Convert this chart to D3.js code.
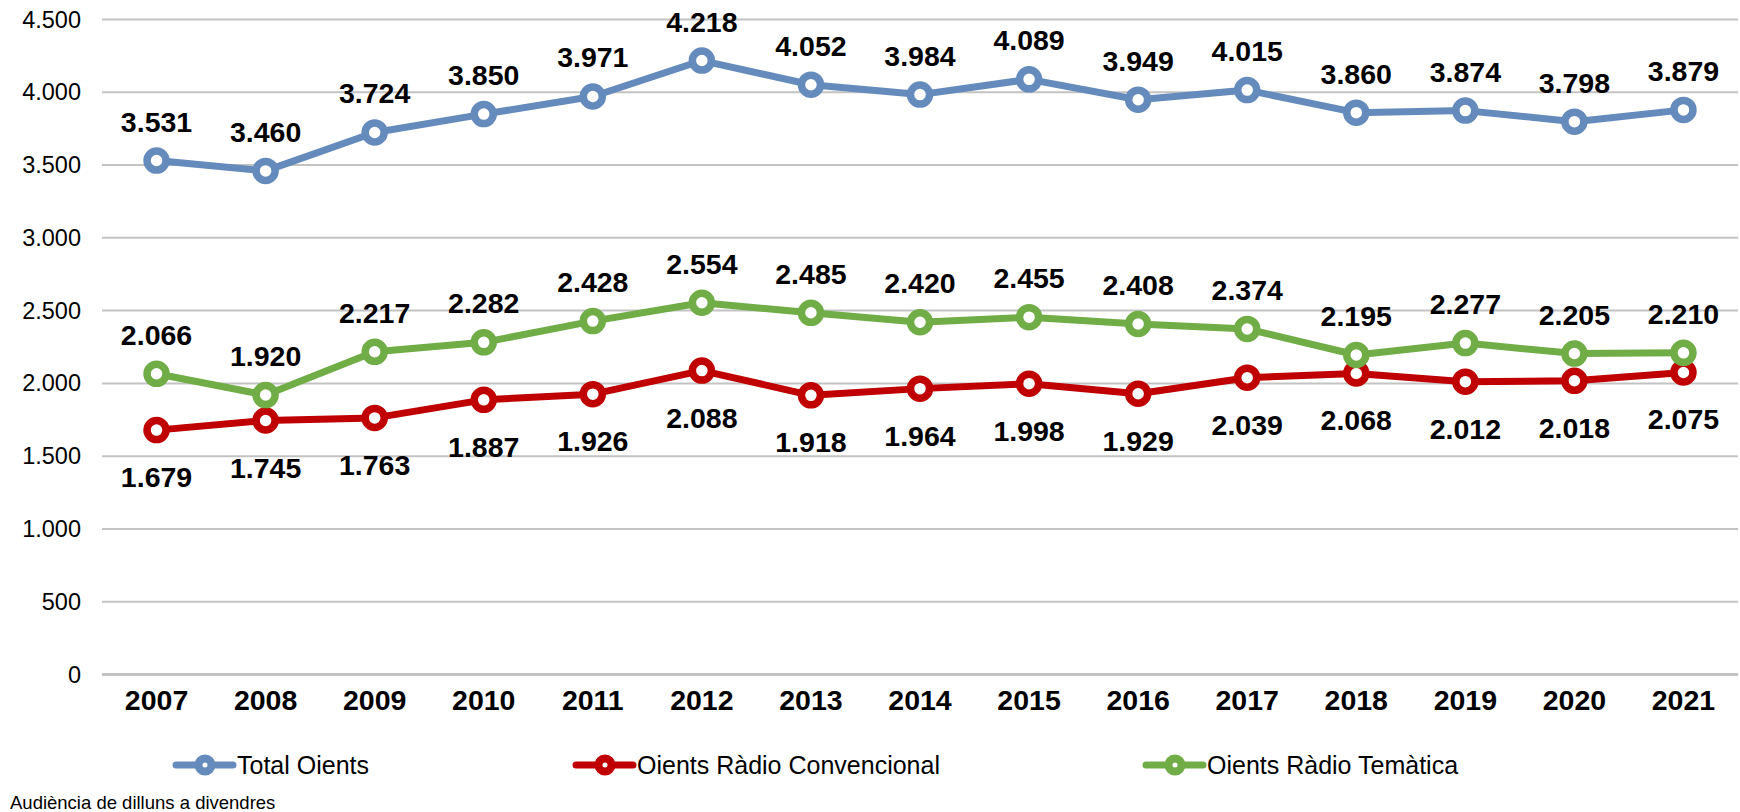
<!DOCTYPE html>
<html>
<head>
<meta charset="utf-8">
<script src="https://cdn.jsdelivr.net/npm/d3@7"></script>
<style>
  body { margin: 0; background: #fff; }
  svg { display: block; font-family: "Liberation Sans", Arial, sans-serif; }
</style>
</head>
<body>
<script>
const years = ['2007', '2008', '2009', '2010', '2011', '2012', '2013', '2014', '2015', '2016', '2017', '2018', '2019', '2020', '2021'];
const totalOients = [3531, 3460, 3724, 3850, 3971, 4218, 4052, 3984, 4089, 3949, 4015, 3860, 3874, 3798, 3879];
const convencional = [1679, 1745, 1763, 1887, 1926, 2088, 1918, 1964, 1998, 1929, 2039, 2068, 2012, 2018, 2075];
const tematica = [2066, 1920, 2217, 2282, 2428, 2554, 2485, 2420, 2455, 2408, 2374, 2195, 2277, 2205, 2210];
const yTicks = [0, 500, 1000, 1500, 2000, 2500, 3000, 3500, 4000, 4500];
const seriesNames = ['Total Oients', 'Oients Ràdio Convencional', 'Oients Ràdio Temàtica'];
const footnote = 'Audiència de dilluns a divendres';

const series = [
  { name: seriesNames[0], values: totalOients, color: '#658BBD', labelPos: 'above' },
  { name: seriesNames[1], values: convencional, color: '#C00000', labelPos: 'below' },
  { name: seriesNames[2], values: tematica, color: '#70AD47', labelPos: 'above' },
];

const width = 1740;
const height = 812;

const locale = d3.formatLocale({ decimal: ',', thousands: '.', grouping: [3], currency: ['', ''] });
const fmt = locale.format(',d');

const svg = d3.select('body').append('svg')
  .attr('width', width)
  .attr('height', height);

const x = d3.scaleBand()
  .domain(years)
  .range([102, 1738]);

const y = d3.scaleLinear()
  .domain([0, 4500])
  .range([674.5, 19.5]);

// gridlines
svg.append('g')
  .selectAll('line')
  .data(yTicks)
  .enter()
  .append('line')
  .attr('x1', 102)
  .attr('x2', 1738)
  .attr('y1', d => y(d))
  .attr('y2', d => y(d))
  .attr('stroke', '#C3C3C3')
  .attr('stroke-width', d => (d === 0 ? 3 : 2));

// y axis labels
const yAxis = svg.append('g')
  .attr('transform', 'translate(81,0)')
  .call(d3.axisLeft(y).tickValues(yTicks).tickFormat(fmt).tickSize(0).tickPadding(0));
yAxis.select('.domain').remove();
yAxis.selectAll('text')
  .attr('font-size', 23.5)
  .attr('font-family', '"Liberation Sans", Arial, sans-serif')
  .attr('fill', '#000');

// x axis labels
const xAxis = svg.append('g')
  .attr('transform', 'translate(0,690)')
  .call(d3.axisBottom(x).tickSize(0).tickPadding(0));
xAxis.select('.domain').remove();
xAxis.selectAll('text')
  .attr('font-size', 28.5)
  .attr('font-weight', 'bold')
  .attr('font-family', '"Liberation Sans", Arial, sans-serif')
  .attr('fill', '#000');

const cx = d => x(d) + x.bandwidth() / 2;

const line = d3.line()
  .x(d => cx(d.year))
  .y(d => y(d.value));

series.forEach((s) => {
  const pts = years.map((yr, i) => ({ year: yr, value: s.values[i] }));
  const g = svg.append('g');

  g.append('path')
    .datum(pts)
    .attr('d', line)
    .attr('fill', 'none')
    .attr('stroke', s.color)
    .attr('stroke-width', 7)
    .attr('stroke-linejoin', 'round');

  g.selectAll('circle')
    .data(pts)
    .enter()
    .append('circle')
    .attr('cx', d => cx(d.year))
    .attr('cy', d => y(d.value))
    .attr('r', 9.5)
    .attr('fill', '#fff')
    .attr('stroke', s.color)
    .attr('stroke-width', 7.5);
});

// data labels on top
series.forEach((s) => {
  svg.append('g')
    .selectAll('text')
    .data(years.map((yr, i) => ({ year: yr, value: s.values[i] })))
    .enter()
    .append('text')
    .attr('x', d => cx(d.year))
    .attr('y', d => y(d.value) + (s.labelPos === 'above' ? -29 : 57))
    .attr('text-anchor', 'middle')
    .attr('font-size', 28.5)
    .attr('font-weight', 'bold')
    .attr('fill', '#000')
    .text(d => fmt(d.value));
});

// legend
const legendX = [176, 576, 1146];
const legend = svg.append('g')
  .selectAll('g')
  .data(series)
  .enter()
  .append('g')
  .attr('transform', (d, i) => `translate(${legendX[i]},765)`);

legend.append('line')
  .attr('x1', 0)
  .attr('x2', 57)
  .attr('stroke', d => d.color)
  .attr('stroke-width', 7)
  .attr('stroke-linecap', 'round');

legend.append('circle')
  .attr('cx', 29)
  .attr('r', 6.5)
  .attr('fill', '#fff')
  .attr('stroke', d => d.color)
  .attr('stroke-width', 8);

legend.append('text')
  .attr('x', 61)
  .attr('dy', '0.35em')
  .attr('font-size', 25)
  .attr('fill', '#000')
  .text(d => d.name);

svg.append('text')
  .attr('x', 10)
  .attr('y', 809)
  .attr('font-size', 18.5)
  .attr('fill', '#000')
  .text(footnote);
</script>
</body>
</html>
